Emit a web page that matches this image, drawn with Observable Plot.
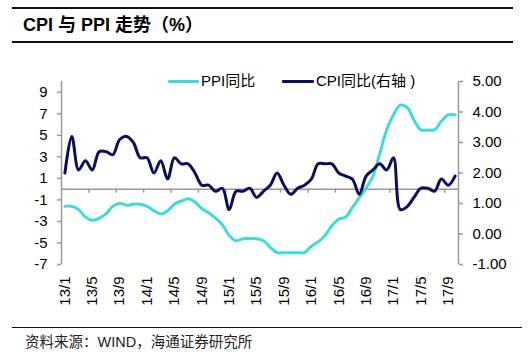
<!DOCTYPE html>
<html><head><meta charset="utf-8">
<script src="https://cdn.jsdelivr.net/npm/d3@7"></script>
<script src="https://cdn.jsdelivr.net/npm/@observablehq/plot@0.6"></script>
<style>
body{margin:0;background:#fff;width:531px;height:363px;position:relative;overflow:hidden;font-family:"Liberation Sans",Arial,"Noto Sans CJK SC",sans-serif;color:#000}
.abs{position:absolute;white-space:nowrap}
.sw{position:absolute;height:3px;border-radius:1px}
</style></head><body>
<div class="abs" style="left:12px;top:7px;width:501px;height:2px;background:#111"></div>
<div class="abs" style="left:23px;top:14px;font-weight:bold;font-size:18px;line-height:22px;">CPI 与 PPI 走势（%）</div>
<div class="abs" style="left:12px;top:41px;width:501px;height:2px;background:#111"></div>
<div class="abs" id="chart" style="left:0;top:43px"></div>
<div class="sw" style="left:168px;top:80px;width:31px;background:#3ddbd9"></div>
<div class="abs" style="left:201px;top:72px;font-size:15px;line-height:18px">PPI同比</div>
<div class="sw" style="left:282px;top:80px;width:32px;background:#0d0d5e"></div>
<div class="abs" style="left:316px;top:72px;font-size:15px;line-height:18px">CPI同比(右轴 )</div>
<div class="abs" style="left:12px;top:327px;width:510px;height:1px;background:#111"></div>
<div class="abs" style="left:25px;top:333px;font-size:14.5px;line-height:18px;color:#222">资料来源：WIND，海通证券研究所</div>
<script>
const months = [
 "13/1","13/2","13/3","13/4","13/5","13/6","13/7","13/8","13/9","13/10","13/11","13/12",
 "14/1","14/2","14/3","14/4","14/5","14/6","14/7","14/8","14/9","14/10","14/11","14/12",
 "15/1","15/2","15/3","15/4","15/5","15/6","15/7","15/8","15/9","15/10","15/11","15/12",
 "16/1","16/2","16/3","16/4","16/5","16/6","16/7","16/8","16/9","16/10","16/11","16/12",
 "17/1","17/2","17/3","17/4","17/5","17/6","17/7","17/8","17/9","17/10"];
const cpi = [
 2.0,3.2,2.1,2.4,2.1,2.7,2.7,2.6,3.1,3.2,3.0,2.5,
 2.5,2.0,2.4,1.8,2.5,2.3,2.3,2.0,1.6,1.6,1.4,1.5,
 0.8,1.4,1.4,1.5,1.2,1.4,1.6,2.0,1.6,1.3,1.5,1.6,
 1.8,2.3,2.3,2.3,2.0,1.9,1.8,1.3,1.9,2.1,2.3,2.1,
 2.5,0.8,0.9,1.2,1.5,1.5,1.4,1.8,1.6,1.9];
const ppi = [
 -1.6,-1.6,-1.9,-2.6,-2.9,-2.7,-2.3,-1.6,-1.3,-1.5,-1.4,-1.4,
 -1.6,-2.0,-2.3,-2.0,-1.4,-1.1,-0.9,-1.2,-1.8,-2.2,-2.7,-3.3,
 -4.3,-4.8,-4.6,-4.6,-4.6,-4.8,-5.4,-5.9,-5.9,-5.9,-5.9,-5.9,
 -5.3,-4.9,-4.3,-3.4,-2.8,-2.6,-1.7,-0.8,0.1,1.2,3.3,5.5,
 6.9,7.8,7.6,6.4,5.5,5.5,5.5,6.3,6.9,6.9];
const xLabelIndex = [0,4,8,12,16,20,24,28,32,36,40,44,48,52,56];
const leftTicks = [9,7,5,3,1,-1,-3,-5,-7];
const rightTicks = [5,4,3,2,1,0,-1];

const L = [-7, 10], R = [-1, 5];
const toLeft = v => L[0] + (v - R[0]) * (L[1] - L[0]) / (R[1] - R[0]);
const fromLeft = v => R[0] + (v - L[0]) * (R[1] - R[0]) / (L[1] - L[0]);
const data = months.map((m, i) => ({i, m, cpi: cpi[i], ppi: ppi[i]}));
const boundaries = d3.range(3.5, months.length - 1, 4);
const gray = "#9a9a9a";

const chart = Plot.plot({
  width: 531, height: 280,
  marginTop: 38, marginBottom: 59, marginLeft: 61, marginRight: 73,
  x: {type: "linear", domain: [-0.5, months.length - 0.5]},
  y: {domain: L},
  style: {fontFamily: '"Liberation Sans", Arial, sans-serif', fontSize: "15px", color: "#000", background: "transparent"},
  marks: [
    Plot.ruleY([0], {stroke: gray, strokeWidth: 1.5}),
    Plot.ruleX(boundaries, {x: d => d, y1: 0, y2: -0.37, stroke: gray, strokeWidth: 1.5}),
    Plot.ruleX([-0.5, months.length - 0.5], {stroke: gray, strokeWidth: 1.5}),
    Plot.axisY({anchor: "left", ticks: leftTicks, tickFormat: d => String(d), tickSize: 4, tickPadding: 10, stroke: gray, strokeWidth: 1.5, fill: "#000", fontSize: 15, label: null}),
    Plot.axisY({anchor: "right", ticks: rightTicks.map(toLeft), tickFormat: v => { const r = Math.round(fromLeft(v) * 100) / 100; return (r === 0 ? 0 : r).toFixed(2); }, tickSize: 4, tickPadding: 10, stroke: gray, strokeWidth: 1.5, fill: "#000", fontSize: 15, label: null}),
    Plot.axisX({ticks: xLabelIndex, tickFormat: i => months[i], tickRotate: -90, tickSize: 0, tickPadding: 12, fill: "#000", fontSize: 15, label: null}),
    Plot.line(data, {x: "i", y: "ppi", stroke: "#3ddbd9", strokeWidth: 3, curve: "catmull-rom"}),
    Plot.line(data, {x: "i", y: d => toLeft(d.cpi), stroke: "#0d0d5e", strokeWidth: 3, curve: "catmull-rom"})
  ]
});
document.getElementById("chart").appendChild(chart);
</script>
</body></html>
